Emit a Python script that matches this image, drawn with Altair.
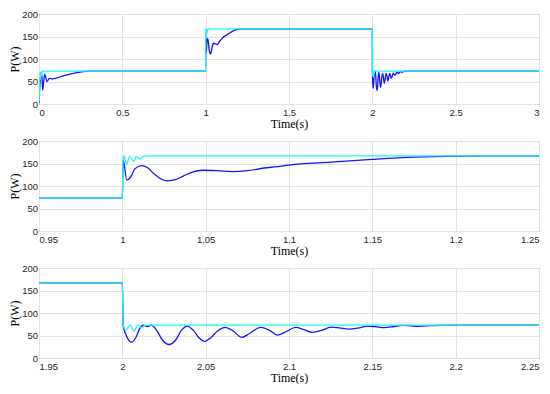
import altair as alt
import pandas as pd

# ---- data (time in s, power in W) ----
blue_t = [0.0, 0.005, 0.012, 0.017, 0.022, 0.034, 0.048, 0.062, 0.08, 0.15, 0.22, 0.28, 0.3,
          1.0, 1.0005, 1.0027, 1.005, 1.0075, 1.0115, 1.0150, 1.019, 1.0235, 1.0270, 1.032, 1.037,
          1.042, 1.048, 1.057, 1.066, 1.075, 1.085, 1.093, 1.1, 1.125, 1.15, 1.175, 1.2, 1.22,
          2.0, 2.0005, 2.003, 2.0055, 2.008, 2.0105, 2.0125, 2.015, 2.0175, 2.0205, 2.024, 2.028,
          2.032, 2.0355, 2.039, 2.0425, 2.046, 2.0495, 2.053, 2.0575, 2.0618, 2.0665, 2.0717,
          2.0765, 2.083, 2.088, 2.093, 2.098, 2.104, 2.109, 2.114, 2.12, 2.125, 2.13, 2.136,
          2.142, 2.147, 2.152, 2.157, 2.163, 2.168, 2.173, 2.178, 2.185, 2.2, 3.0]
blue_p = [0, 40, 62, 66, 31, 66, 50, 57, 56, 63, 69, 72.5, 73,
          73, 158, 113, 120, 138, 145.5, 141, 127, 115, 111.5, 114, 123,
          131, 135, 134, 132, 134, 140, 143, 146.5, 153, 159, 164, 166.5, 167,
          167, 72, 45, 35, 45, 66, 73, 70, 73, 62, 40, 30,
          40, 62, 71, 62, 45, 37, 45, 61, 68, 60, 46,
          55, 68, 62, 51, 58, 68, 63, 57, 62, 68.5, 67, 64,
          67, 71, 69.5, 67.5, 70, 72.5, 71.5, 70.5, 72, 73, 73]

cyan_t = [0.0, 0.004, 0.007, 0.010, 0.013, 0.016, 0.019, 0.025,
          1.0, 1.0005, 1.001, 1.0025, 1.0045, 1.0068, 1.0085, 1.0105, 1.0125, 1.015,
          2.0, 2.0005, 2.0021, 2.0047, 2.0071, 2.0091, 2.0117, 2.0137, 3.0]
cyan_p = [0, 50, 70, 55, 72, 62, 73, 73,
          73, 160, 167, 148, 166, 155, 166, 160, 166, 167,
          167, 73, 62, 73, 59, 73, 67, 73, 73]

panels = [
    {"domain": [0, 3], "ticks": [0, 0.5, 1, 1.5, 2, 2.5, 3]},
    {"domain": [0.95, 1.25], "ticks": [0.95, 1.0, 1.05, 1.1, 1.15, 1.2, 1.25]},
    {"domain": [1.95, 2.25], "ticks": [1.95, 2.0, 2.05, 2.1, 2.15, 2.2, 2.25]},
]
y_ticks = [0, 50, 100, 150, 200]

blue_df = pd.DataFrame({"t": blue_t, "p": blue_p})
cyan_df = pd.DataFrame({"t": cyan_t, "p": cyan_p})


def panel(cfg):
    x = alt.X("t:Q", scale=alt.Scale(domain=cfg["domain"], nice=False, zero=False),
              axis=alt.Axis(values=cfg["ticks"], title="Time(s)", labelPadding=3,
                            titlePadding=2,
                            labelExpr="format(datum.value, '.2~f')"))
    y = alt.Y("p:Q", scale=alt.Scale(domain=[0, 200], nice=False),
              axis=alt.Axis(values=y_ticks, title="P(W)", labelPadding=1.5,
                            titlePadding=0))
    b = alt.Chart(blue_df).mark_line(color="#1414ff", strokeWidth=1.3, clip=True,
                                    interpolate="monotone").encode(x=x, y=y)
    c = alt.Chart(cyan_df).mark_line(color="#1ef6f6", strokeWidth=1.3, clip=True,
                                    interpolate="monotone").encode(x=x, y=y)
    return alt.layer(b, c).properties(width=500, height=90)


chart = alt.vconcat(*[panel(p) for p in panels], spacing=5).properties(
    padding={"left": 0, "top": 0, "right": 0, "bottom": 0}
).configure_view(stroke="#262626", strokeWidth=1).configure_axis(
    grid=True, gridColor="#e3e3e3", gridWidth=1, domain=False, ticks=False,
    labelFont="Liberation Sans", labelFontSize=9.5, labelColor="#262626",
    titleFont="Liberation Serif", titleFontSize=12, titleFontWeight="normal",
    titleColor="#000000"
)

chart.save("out.html", embed_options={"renderer": "svg", "actions": False})
